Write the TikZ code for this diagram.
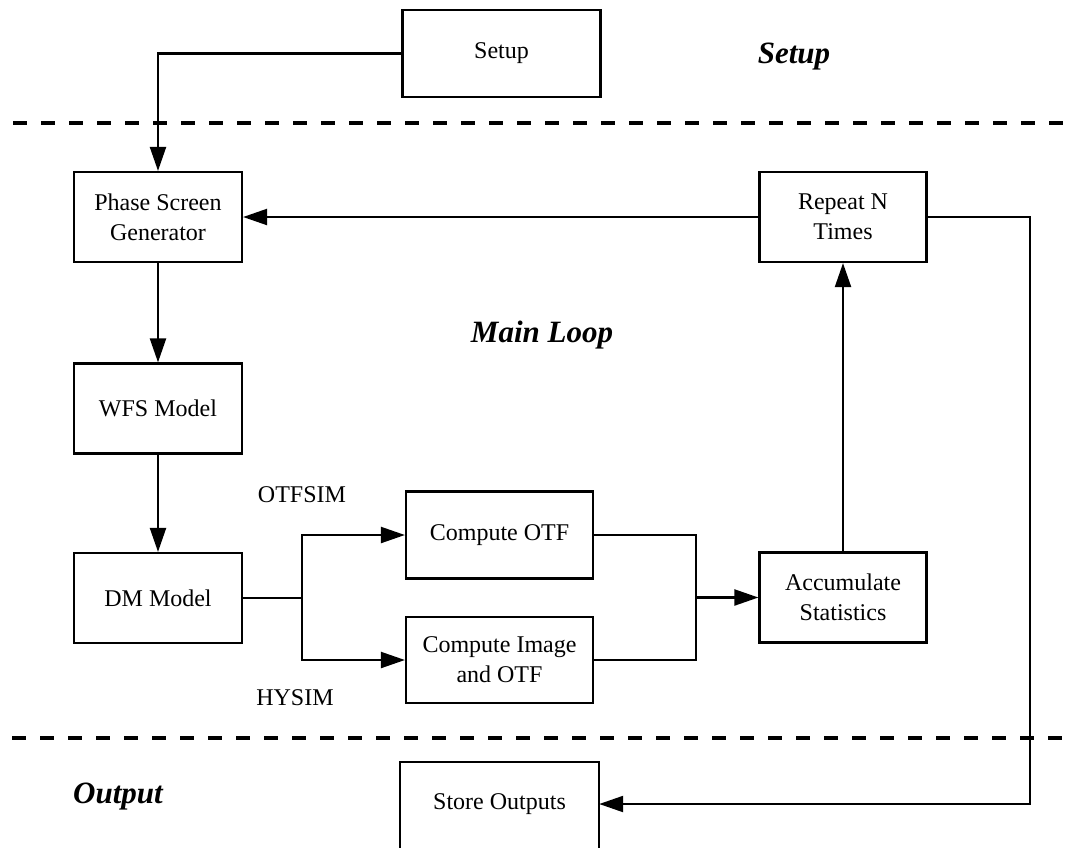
\documentclass[tikz,border=0pt]{standalone}
\usepackage{fontspec}
\setmainfont{Liberation Serif}
\usetikzlibrary{arrows.meta}
\tikzset{
  box/.style={draw, line width=2.2pt, align=center, inner sep=0pt,
    font=\fontsize{24}{30}\selectfont},
  plain/.style={align=center, inner sep=0pt, font=\fontsize{24}{30}\selectfont},
  region/.style={inner sep=0pt, font=\fontsize{31}{36}\selectfont\bfseries\itshape},
  conn/.style={line width=2.2pt},
  arr/.style={line width=2.2pt, -{Triangle[length=24pt,width=16pt]}},
  sep/.style={line width=3.5pt, dash pattern=on 14pt off 14pt}
}
\begin{document}
\begin{tikzpicture}[x=1pt,y=-1pt]
\useasboundingbox (0,0) rectangle (1070,847);
% region separators
\draw[sep] (13,123) -- (1070,123);
\draw[sep] (12,738) -- (1070,738);
% region labels
\node[region] (lsetup) at (794,57) {Setup};
\node[region] (lmain) at (542,335) {Main Loop};
\node[region] (lout) at (118,797) {Output};
% boxes
\node[box, minimum width=198pt, minimum height=87pt] (setup) at (501.5,53.5) {Setup};
\node[box, minimum width=168pt, minimum height=90pt] (phase) at (158,217) {Phase Screen\\Generator};
\node[box, minimum width=167pt, minimum height=90pt] (repeat) at (843,217) {Repeat N\\Times};
\node[box, minimum width=168pt, minimum height=90pt] (wfs) at (158,408.5) {WFS Model};
\node[box, minimum width=168pt, minimum height=90pt] (dm) at (158,598) {DM Model};
\node[box, minimum width=187pt, minimum height=87pt] (otf) at (499.5,535) {Compute OTF};
\node[box, minimum width=187pt, minimum height=86pt] (img) at (499.5,660) {Compute Image\\and OTF};
\node[box, minimum width=167pt, minimum height=90pt] (acc) at (843,597.5) {Accumulate\\Statistics};
\node[plain, minimum width=199pt, minimum height=84pt] (store) at (499.5,804) {Store Outputs};
\draw[line width=2.2pt] ([yshift=-40pt]store.south west) -- (store.north west) -- (store.north east) -- ([yshift=-40pt]store.south east);
% branch labels
\node[plain] (lotf) at (302,495) {OTFSIM};
\node[plain] (lhy) at (295,698) {HYSIM};
% junctions
\coordinate (j1) at (302,598);
\coordinate (j2) at (696,597.5);
\coordinate (r) at (1030,804);
% connectors
\draw[arr] (setup.west) -| (phase.north);
\draw[arr] (repeat.west) -- (phase.east);
\draw[arr] (phase.south) -- (wfs.north);
\draw[arr] (wfs.south) -- (dm.north);
\draw[conn] (dm.east) -- (j1);
\draw[arr] (j1) |- (otf.west);
\draw[arr] (j1) |- (img.west);
\draw[conn] (otf.east) -| (j2);
\draw[conn] (img.east) -| (j2);
\draw[arr] (j2) -- (acc.west);
\draw[arr] (acc.north) -- (repeat.south);
\draw[arr] (repeat.east) -| (r) -- (store.east);
\end{tikzpicture}
\end{document}
